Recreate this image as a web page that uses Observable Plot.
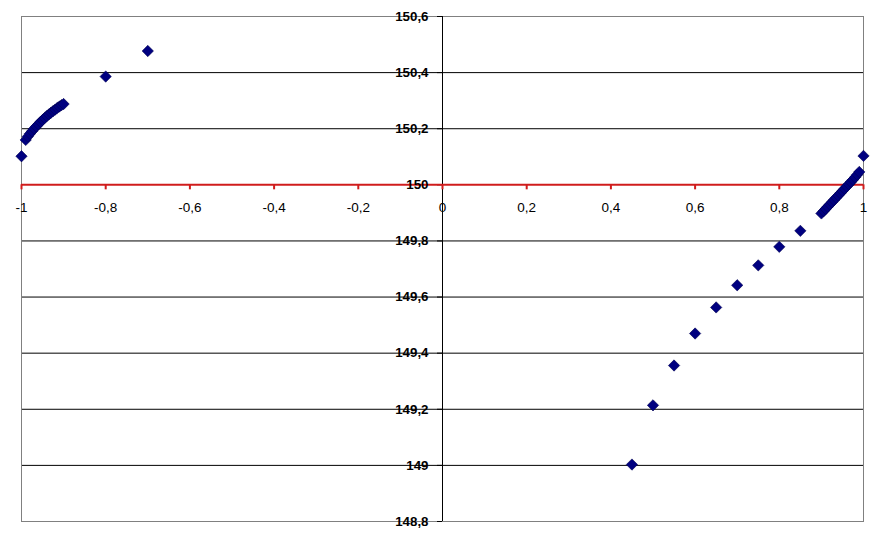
<!DOCTYPE html>
<html>
<head>
<meta charset="utf-8">
<script src="https://cdn.jsdelivr.net/npm/d3@7"></script>
<script src="https://cdn.jsdelivr.net/npm/@observablehq/plot@0.6"></script>
<style>
  html, body { margin: 0; padding: 0; background: white; }
</style>
</head>
<body>
<div id="chart"></div>
<script>
// Series values
const xValues = [
  -1, -0.990, -0.985, -0.980, -0.975, -0.970, -0.965, -0.960, -0.955, -0.950,
  -0.945, -0.940, -0.935, -0.930, -0.925, -0.920, -0.915, -0.910, -0.905, -0.900,
  -0.8, -0.7,
  0.45, 0.5, 0.55, 0.6, 0.65, 0.7, 0.75, 0.8, 0.85,
  0.900, 0.905, 0.910, 0.915, 0.920, 0.925, 0.930, 0.935, 0.940, 0.945,
  0.950, 0.955, 0.960, 0.965, 0.970, 0.975, 0.980, 0.985, 0.990,
  1
];
const yValues = [
  150.102, 150.160, 150.172, 150.182, 150.191, 150.200, 150.208, 150.216, 150.224, 150.231,
  150.238, 150.245, 150.251, 150.257, 150.263, 150.268, 150.274, 150.279, 150.284, 150.288,
  150.386, 150.477,
  149.003, 149.214, 149.356, 149.470, 149.563, 149.642, 149.713, 149.779, 149.836,
  149.898, 149.906, 149.914, 149.922, 149.930, 149.938, 149.946, 149.954, 149.962, 149.970,
  149.978, 149.986, 149.994, 150.002, 150.010, 150.018, 150.027, 150.036, 150.046,
  150.103
];

// Axis ticks and labels
const xTicks = [-1, -0.8, -0.6, -0.4, -0.2, 0, 0.2, 0.4, 0.6, 0.8, 1];
const xTickLabels = ["-1", "-0,8", "-0,6", "-0,4", "-0,2", "0", "0,2", "0,4", "0,6", "0,8", "1"];
const yTicks = [148.8, 149, 149.2, 149.4, 149.6, 149.8, 150, 150.2, 150.4, 150.6];
const yTickLabels = ["148,8", "149", "149,2", "149,4", "149,6", "149,8", "150", "150,2", "150,4", "150,6"];
const yGrid = [149, 149.2, 149.4, 149.6, 149.8, 150.2, 150.4];
const xCross = 150; // horizontal axis crosses here
const yCross = 0;   // vertical axis crosses here

const points = xValues.map((x, i) => ({x, y: yValues[i]}));
const xT = xTicks.map((v, i) => ({v, label: xTickLabels[i]}));
const yT = yTicks.map((v, i) => ({v, label: yTickLabels[i]}));

const font = "Arial, 'Liberation Sans', sans-serif";
const red = "#d01c1c";

const chart = Plot.plot({
  width: 877,
  height: 538,
  marginLeft: 21,
  marginRight: 14,
  marginTop: 16,
  marginBottom: 17,
  style: {background: "white", fontFamily: font, overflow: "visible"},
  x: {domain: [-1, 1], axis: null},
  y: {domain: [148.8, 150.6], axis: null},
  marks: [
    Plot.ruleY(yGrid, {stroke: "black", strokeWidth: 1}),
    Plot.frame({stroke: "#808080", strokeWidth: 1}),
    Plot.ruleX([yCross], {stroke: "black", strokeWidth: 1}),
    Plot.ruleY(yT, {y: "v", x1: () => yCross, x2: () => yCross, insetLeft: -5, stroke: "black", strokeWidth: 1}),
    Plot.ruleY([xCross], {stroke: red, strokeWidth: 2}),
    Plot.ruleX(xT, {x: "v", y1: () => xCross, y2: () => xCross, insetBottom: -5, stroke: red, strokeWidth: 2}),
    Plot.dot(points, {x: "x", y: "y", symbol: "diamond2", r: 5.1, fill: "#000080", stroke: "#000050", strokeWidth: 0.6}),
    Plot.text(xT, {x: "v", y: () => xCross, text: "label", dy: 23, fontSize: 13.5, fontFamily: font, fill: "black"}),
    Plot.text(yT, {x: () => yCross, y: "v", text: "label", textAnchor: "end", dx: -14, fontSize: 13.3, fontWeight: "bold", fontFamily: font, fill: "black"})
  ]
});
document.getElementById("chart").appendChild(chart);
</script>
</body>
</html>
